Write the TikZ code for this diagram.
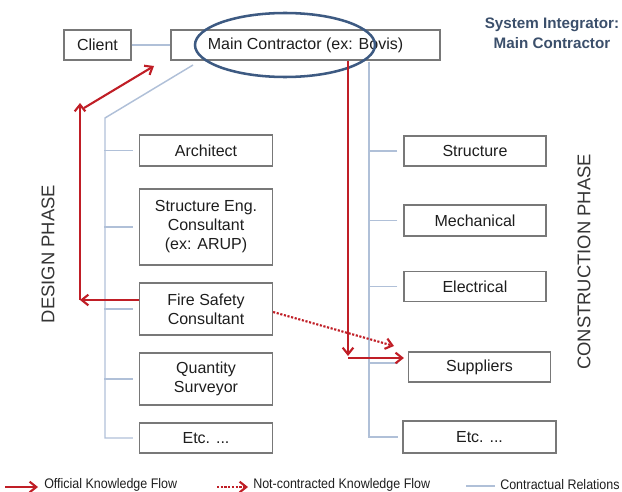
\documentclass[tikz,border=0pt]{standalone}
\usepackage{fontspec}
\setmainfont{Liberation Sans}
\usetikzlibrary{arrows.meta,shapes.geometric}
\definecolor{kred}{RGB}{192,30,38}
\definecolor{kgray}{RGB}{176,192,216}
\definecolor{kbox}{RGB}{120,120,120}
\definecolor{kblue}{RGB}{61,90,130}
\definecolor{ktitle}{RGB}{59,79,107}
\definecolor{ktext}{RGB}{30,30,30}
\begin{document}
\begin{tikzpicture}[x=0.75pt,y=-0.75pt,
  box/.style={draw=kbox, line width=0.9pt, fill=white, align=center, inner sep=0pt,
    text=ktext, font=\fontsize{12}{14.2}\selectfont},
  lbox/.style={box, minimum width=99.75pt},
  rbox/.style={box, minimum width=106.5pt},
  contract/.style={draw=kgray, line width=1.1pt},
  official/.style={draw=kred, line width=1.6pt, -{Straight Barb[length=5pt,width=8pt,line width=1.6pt]}},
  informal/.style={draw=kred, line width=1.6pt, dash pattern=on 1.6pt off 1.2pt, -{Straight Barb[length=5pt,width=8pt,line width=1.6pt]}},
  phase/.style={rotate=90, text=ktext!90, font=\fontsize{13.8}{15}\selectfont},
  legend/.style={anchor=west, text=ktext, inner sep=0pt, font=\fontsize{10.4}{12}\selectfont}
]
\useasboundingbox (0,0) rectangle (622,492);

% boxes
\node[box, minimum width=50.25pt, minimum height=22.5pt] (client) at (97.5,45) {Client};
\node[box, minimum width=201.75pt, minimum height=22.5pt] (main) at (305.5,45) {Main Contractor (ex: Bovis)};

\node[lbox, minimum height=23.25pt] (arch) at (206,150.5) {Architect};
\node[lbox, minimum height=57pt] (seng) at (206,227) {Structure Eng.\\Consultant\\(ex: ARUP)};
\node[lbox, minimum height=39pt] (fire) at (206,309) {Fire Safety\\Consultant};
\node[lbox, minimum height=39pt] (qs) at (206,379) {Quantity\\Surveyor};
\node[lbox, minimum height=22.5pt] (etcl) at (206,438) {Etc. ...};

\node[rbox, minimum height=22.5pt] (struct) at (475,151) {Structure};
\node[rbox, minimum height=23.25pt] (mech) at (475,220.5) {Mechanical};
\node[rbox, minimum height=22.5pt] (elec) at (475,286.5) {Electrical};
\node[box, minimum width=106.5pt, minimum height=22.5pt] (supp) at (479.5,367) {Suppliers};
\node[box, minimum width=114.75pt, minimum height=24pt] (etcr) at (479.5,437) {Etc. ...};

% contractual relations
\coordinate (lspA) at (193,65);
\coordinate (lspB) at (105,118);
\coordinate (rspA) at (369,62);
\draw[contract] (client.east) -- (main.west);
\draw[contract] (lspA) -- (lspB) |- ([xshift=-4.5pt]etcl.west);
\foreach \n in {arch,seng,fire,qs}{
  \draw[contract] ([xshift=-4.5pt]\n.west) -- ++(-29,0);
}
\draw[contract] (rspA) |- ([xshift=-3pt]etcr.west);
\foreach \n in {struct,mech,elec}{
  \draw[contract] ([xshift=-4.5pt]\n.west) -- ++(-29,0);
}
\draw[contract] ([xshift=-7.5pt,yshift=3pt]supp.west) -- ++(-29,0);

% highlight ellipse
\node[draw=kblue, line width=1.9pt, ellipse, minimum width=135pt, minimum height=48pt, inner sep=0pt] (hl) at (285,45) {};

% official knowledge flow
\coordinate (lcorner) at (80,300);
\coordinate (ltop) at (80,103);
\coordinate (dstart) at (84,108);
\coordinate (dend) at (154,66);
\draw[official] ([yshift=6.75pt]fire.west) -- (lcorner);
\draw[official] (lcorner) -- (ltop);
\draw[official] (dstart) -- (dend);

\coordinate (rtop) at (348,61);
\coordinate (rbot) at (348,356);
\coordinate (rcorner) at (348,358);
\draw[official] (rtop) -- (rbot);
\draw[official] (rcorner) -- ([xshift=-3pt,yshift=6.75pt]supp.west);

% not-contracted knowledge flow
\coordinate (dotend) at (394,346);
\draw[informal] ([yshift=-2.25pt]fire.east) -- (dotend);

% phase labels
\node[phase] (design) at (48,254) {DESIGN PHASE};
\node[phase] (constr) at (584,262) {CONSTRUCTION PHASE};

% title
\node[align=center, text=ktitle, font=\bfseries\fontsize{11.4}{15}\selectfont] (title) at (552,33) {System Integrator:\\Main Contractor};

% legend
\coordinate (lg1a) at (5,487);
\coordinate (lg1b) at (38,487);
\draw[official] (lg1a) -- (lg1b);
\node[legend] (lt1) at (44,485) {\scalebox{0.9}[1]{Official Knowledge Flow}};
\coordinate (lg2a) at (217,487);
\coordinate (lg2b) at (248,487);
\draw[informal] (lg2a) -- (lg2b);
\node[legend] (lt2) at (253,485) {\scalebox{0.9}[1]{Not-contracted Knowledge Flow}};
\coordinate (lg3a) at (466,486);
\coordinate (lg3b) at (495,486);
\draw[contract] (lg3a) -- (lg3b);
\node[legend] (lt3) at (500,485) {\scalebox{0.9}[1]{Contractual Relations}};
\end{tikzpicture}
\end{document}
